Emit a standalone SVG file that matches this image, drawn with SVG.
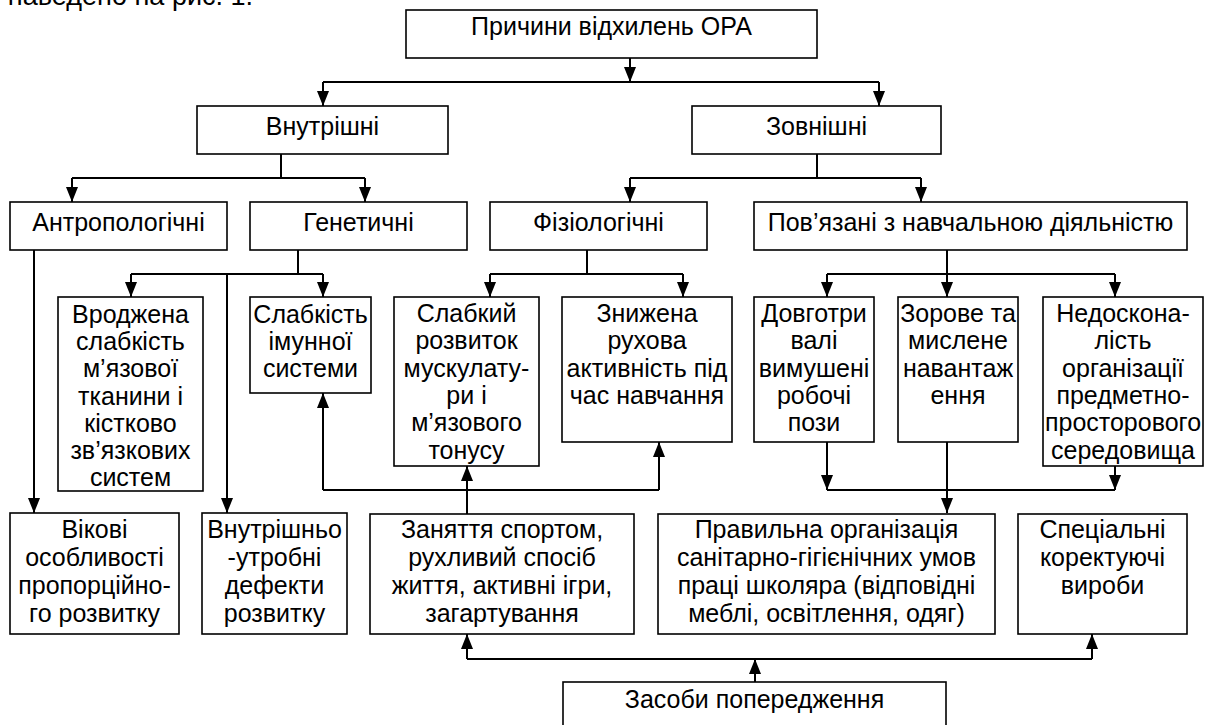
<svg xmlns="http://www.w3.org/2000/svg" width="1205" height="725" viewBox="0 0 1205 725">
<style>
.box{fill:#fff;stroke:#000;stroke-width:1.6}
text{font-family:'Liberation Sans',Arial,sans-serif;font-size:25px;fill:#000}
.t{text-anchor:middle}
.c{fill:none;stroke:#000;stroke-width:2}
.a{marker-end:url(#ah)}
</style>
<defs>
<marker id="ah" markerUnits="userSpaceOnUse" markerWidth="15" markerHeight="12" refX="15" refY="6" orient="auto">
<path d="M0,0 L15,6 L0,12 z" fill="#000"/>
</marker>
</defs>
<rect width="1205" height="725" fill="#fff"/>
<text x="253" y="5" style="font-size:27px" text-anchor="end">наведено на рис. 1.</text>

<g id="connectors">
<path class="c a" d="M630,58 V82"/>
<path class="c" d="M323,82 H879"/>
<path class="c a" d="M323,82 V106"/>
<path class="c a" d="M879,82 V106"/>
<path class="c" d="M281,154 V178 M72,178 H365"/>
<path class="c a" d="M72,178 V202"/>
<path class="c a" d="M365,178 V202"/>
<path class="c" d="M817,154 V178 M630,178 H921"/>
<path class="c a" d="M630,178 V202"/>
<path class="c a" d="M921,178 V202"/>
<path class="c a" d="M34,250 V513"/>
<path class="c" d="M298,250 V274 M131,274 H323"/>
<path class="c a" d="M131,274 V297"/>
<path class="c a" d="M323,274 V297"/>
<path class="c a" d="M227,274 V513"/>
<path class="c" d="M587,250 V274 M490,274 H683"/>
<path class="c a" d="M490,274 V297"/>
<path class="c a" d="M683,274 V297"/>
<path class="c" d="M947,250 V274 M827,274 H1115"/>
<path class="c a" d="M827,274 V297"/>
<path class="c a" d="M947,274 V297"/>
<path class="c a" d="M1115,274 V297"/>
<path class="c a" d="M827,442 V490"/>
<path class="c a" d="M1115,466 V490"/>
<path class="c" d="M827,490 H1115"/>
<path class="c a" d="M947,442 V513"/>
<path class="c a" d="M467,514 V466"/>
<path class="c" d="M323,490 H659"/>
<path class="c a" d="M323,490 V393"/>
<path class="c a" d="M659,490 V442"/>
<path class="c a" d="M755,682 V659"/>
<path class="c" d="M467,659 H1092"/>
<path class="c a" d="M467,659 V634"/>
<path class="c a" d="M1092,659 V634"/>
</g>

<g id="n-root"><rect class="box" x="406" y="10" width="411" height="48"/><text class="t" x="611.5" y="35">Причини відхилень ОРА</text></g>
<g id="n-internal"><rect class="box" x="197" y="106" width="251" height="48"/><text class="t" x="322.5" y="135">Внутрішні</text></g>
<g id="n-external"><rect class="box" x="692" y="106" width="249" height="48"/><text class="t" x="816.5" y="135">Зовнішні</text></g>

<g id="n-anthro"><rect class="box" x="10" y="202" width="217" height="48"/><text class="t" x="118.5" y="231">Антропологічні</text></g>
<g id="n-genetic"><rect class="box" x="250" y="202" width="217" height="48"/><text class="t" x="358.5" y="231">Генетичні</text></g>
<g id="n-physio"><rect class="box" x="490" y="202" width="217" height="48"/><text class="t" x="598.5" y="231">Фізіологічні</text></g>
<g id="n-study"><rect class="box" x="754" y="202" width="433" height="48"/><text class="t" x="970.5" y="231">Пов’язані з навчальною діяльністю</text></g>

<g id="n-congenital"><rect class="box" x="58" y="297" width="145" height="194"/>
<text class="t" x="130.5" y="323"><tspan x="130.5">Вроджена</tspan><tspan x="130.5" dy="27.2">слабкість</tspan><tspan x="130.5" dy="27.2">м’язової</tspan><tspan x="130.5" dy="27.2">тканини і</tspan><tspan x="130.5" dy="27.2">кістково</tspan><tspan x="130.5" dy="27.2">зв’язкових</tspan><tspan x="130.5" dy="27.2">систем</tspan></text></g>
<g id="n-immune"><rect class="box" x="250" y="297" width="121" height="96"/>
<text class="t" x="310.5" y="323"><tspan x="310.5">Слабкість</tspan><tspan x="310.5" dy="27.2">імунної</tspan><tspan x="310.5" dy="27.2">системи</tspan></text></g>
<g id="n-weakmuscle"><rect class="box" x="394" y="297" width="145" height="169"/>
<text class="t" x="466.5" y="322"><tspan x="466.5">Слабкий</tspan><tspan x="466.5" dy="27.3">розвиток</tspan><tspan x="466.5" dy="27.3">мускулату-</tspan><tspan x="466.5" dy="27.3">ри і</tspan><tspan x="466.5" dy="27.3">м’язового</tspan><tspan x="466.5" dy="27.3">тонусу</tspan></text></g>
<g id="n-lowactivity"><rect class="box" x="562" y="297" width="170" height="145"/>
<text class="t" x="647" y="322"><tspan x="647">Знижена</tspan><tspan x="647" dy="27.3">рухова</tspan><tspan x="647" dy="27.3">активність під</tspan><tspan x="647" dy="27.3">час навчання</tspan></text></g>
<g id="n-postures"><rect class="box" x="754" y="297" width="120" height="145"/>
<text class="t" x="814" y="322"><tspan x="814">Довготри</tspan><tspan x="814" dy="27.3">валі</tspan><tspan x="814" dy="27.3">вимушені</tspan><tspan x="814" dy="27.3">робочі</tspan><tspan x="814" dy="27.3">пози</tspan></text></g>
<g id="n-load"><rect class="box" x="898" y="297" width="120" height="145"/>
<text class="t" x="958" y="322"><tspan x="958">Зорове та</tspan><tspan x="958" dy="27.3">мислене</tspan><tspan x="958" dy="27.3">навантаж</tspan><tspan x="958" dy="27.3">ення</tspan></text></g>
<g id="n-environment"><rect class="box" x="1043" y="297" width="160" height="169"/>
<text class="t" x="1123" y="322"><tspan x="1123">Недоскона-</tspan><tspan x="1123" dy="27.3">лість</tspan><tspan x="1123" dy="27.3">організації</tspan><tspan x="1123" dy="27.3">предметно-</tspan><tspan x="1123" dy="27.3">просторового</tspan><tspan x="1123" dy="27.3">середовища</tspan></text></g>

<g id="n-age"><rect class="box" x="10" y="513" width="169" height="121"/>
<text class="t" x="94.5" y="538"><tspan x="94.5">Вікові</tspan><tspan x="94.5" dy="28">особливості</tspan><tspan x="94.5" dy="28">пропорційно-</tspan><tspan x="94.5" dy="28">го розвитку</tspan></text></g>
<g id="n-intrauterine"><rect class="box" x="202" y="513" width="145" height="121"/>
<text class="t" x="274.5" y="538"><tspan x="274.5">Внутрішньо</tspan><tspan x="274.5" dy="28">-утробні</tspan><tspan x="274.5" dy="28">дефекти</tspan><tspan x="274.5" dy="28">розвитку</tspan></text></g>
<g id="n-sport"><rect class="box" x="370" y="514" width="264" height="120"/>
<text class="t" x="502" y="538"><tspan x="502">Заняття спортом,</tspan><tspan x="502" dy="28">рухливий спосіб</tspan><tspan x="502" dy="28">життя, активні ігри,</tspan><tspan x="502" dy="28">загартування</tspan></text></g>
<g id="n-hygiene"><rect class="box" x="658" y="514" width="337" height="120"/>
<text class="t" x="826.5" y="538"><tspan x="826.5">Правильна організація</tspan><tspan x="826.5" dy="28">санітарно-гігієнічних умов</tspan><tspan x="826.5" dy="28">праці школяра (відповідні</tspan><tspan x="826.5" dy="28">меблі, освітлення, одяг)</tspan></text></g>
<g id="n-special"><rect class="box" x="1018" y="514" width="169" height="120"/>
<text class="t" x="1102.5" y="538"><tspan x="1102.5">Спеціальні</tspan><tspan x="1102.5" dy="28">коректуючі</tspan><tspan x="1102.5" dy="28">вироби</tspan></text></g>

<g id="n-prevention"><rect class="box" x="563" y="682" width="383" height="60"/><text class="t" x="754.5" y="708">Засоби попередження</text></g>
</svg>
